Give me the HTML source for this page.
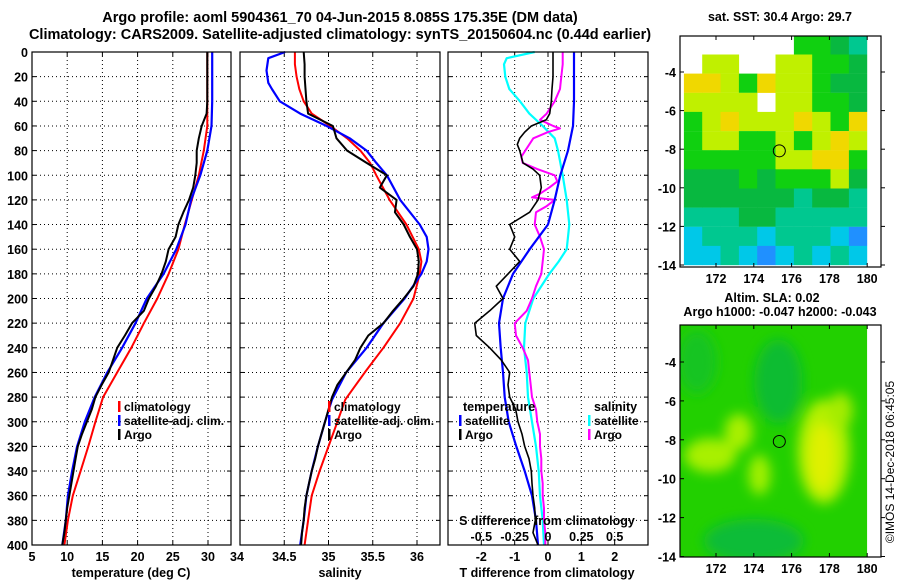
<!DOCTYPE html>
<html><head><meta charset="utf-8">
<style>
html,body{margin:0;padding:0;background:#fff;}
svg{display:block;font-family:"Liberation Sans",sans-serif;font-weight:bold;}
</style></head>
<body>
<svg id="fig" width="900" height="580" viewBox="0 0 900 580"></svg>
<script>
// ---------- data ----------
const depthsCoarse=[0,20,40,60,80,100,120,140,160,180,200,220,240,260,280,300,320,340,360,380,400];
const tempClim=[29.9,29.9,29.9,29.9,29.4,28.7,27.7,26.7,25.8,24.4,22.8,20.9,19.1,17.1,15.1,14.0,13.0,11.9,10.8,10.1,9.6];
const tempSat=[30.6,30.6,30.6,30.5,29.9,28.9,27.6,26.8,25.5,23.7,21.3,19.7,17.8,15.7,13.9,12.5,11.4,10.7,10.1,9.8,9.3];
const depthsFine=[0,10,20,30,40,50,60,70,80,90,100,110,120,130,140,150,160,170,180,190,200,210,220,230,240,250,260,270,280,290,300,310,320,330,340,350,360,370,380,390,400];
const tempArgo=[29.9,29.9,29.9,29.9,29.9,29.8,29.1,28.7,28.4,28.4,28.2,27.9,27.3,26.5,25.8,25.4,24.4,24.0,23.4,22.6,21.6,20.9,19.2,18.2,17.1,16.5,15.9,14.9,14.0,13.5,12.8,12.1,11.5,11.2,10.9,10.6,10.3,10.0,9.8,9.6,9.3];
const salDepths=[0,5,15,25,30,40,50,60,70,80,90,100,120,140,150,160,170,180,200,220,240,260,282,300,320,340,360,380,400];
const salSat=[34.51,34.32,34.30,34.32,34.36,34.45,34.68,34.98,35.24,35.43,35.54,35.66,35.81,36.03,36.11,36.13,36.11,36.05,35.86,35.62,35.43,35.20,35.04,34.96,34.88,34.81,34.75,34.72,34.68];
const salClimDepths=[0,10,20,30,40,50,60,70,80,90,100,120,140,160,170,180,200,220,240,260,282,300,320,340,360,380,400];
const salClim=[34.62,34.62,34.64,34.67,34.72,34.81,35.02,35.21,35.36,35.47,35.54,35.69,35.88,36.02,36.05,36.03,35.96,35.81,35.62,35.41,35.19,35.10,35.00,34.90,34.81,34.77,34.73];
const salArgo=[34.72,34.73,34.73,34.74,34.75,34.77,35.05,35.09,35.21,35.43,35.66,35.58,35.77,35.75,35.85,35.92,36.0,36.02,36.01,35.96,35.85,35.73,35.62,35.45,35.36,35.3,35.2,35.1,35.04,35.0,34.96,34.92,34.88,34.85,34.81,34.78,34.75,34.73,34.72,34.7,34.69];
const tDiffSat=[0.78,0.78,0.78,0.75,0.6,0.37,0.2,0.0,-0.55,-1.05,-1.35,-1.47,-1.42,-1.35,-1.3,-1.18,-0.95,-0.7,-0.48,-0.36,-0.3];
const tDiffArgoDepths=[0,10,20,30,40,50,55,60,65,70,75,80,90,95,100,110,120,130,140,150,160,170,180,190,200,210,220,230,240,250,260,270,280,290,300,310,320,330,340,350,360,370,380,390,400];
const tDiffArgo=[0.15,0.15,0.15,0.12,0.1,0.05,-0.05,-0.5,-0.7,-0.85,-0.92,-0.85,-0.75,-0.45,-0.25,-0.2,-0.3,-0.55,-1.15,-1.0,-1.15,-0.85,-1.2,-1.55,-1.35,-1.75,-2.2,-2.15,-1.75,-1.4,-1.15,-1.2,-1.15,-0.97,-0.9,-0.78,-0.7,-0.57,-0.5,-0.48,-0.45,-0.4,-0.38,-0.45,-0.3];
const sDiffSatDepths=[0,5,10,20,30,40,50,60,70,80,100,120,140,160,170,180,200,220,240,260,280,300,320,340,360,380,400];
const sDiffSat=[-0.1,-0.31,-0.33,-0.32,-0.29,-0.21,-0.14,-0.04,0.05,0.075,0.11,0.14,0.16,0.14,0.08,0.01,-0.11,-0.17,-0.18,-0.16,-0.15,-0.12,-0.09,-0.07,-0.06,-0.04,-0.03];
const sDiffArgoDepths=[0,10,20,30,40,50,55,60,62,65,70,80,85,90,95,100,105,110,115,118,120,125,130,140,150,160,170,180,190,200,210,220,230,240,250,260,270,280,290,300,310,320,330,340,350,360,370,380,390,400];
const sDiffArgo=[0.11,0.11,0.1,0.09,0.05,-0.01,-0.06,0.04,0.09,0.0,-0.11,-0.17,-0.2,-0.19,-0.08,0.05,0.07,0.01,-0.06,-0.12,0.05,-0.01,-0.09,-0.1,-0.06,-0.03,-0.04,-0.05,-0.09,-0.12,-0.16,-0.25,-0.24,-0.19,-0.15,-0.14,-0.13,-0.12,-0.09,-0.08,-0.06,-0.06,-0.05,-0.05,-0.04,-0.04,-0.03,-0.03,-0.02,-0.02];
const depthTicks=[0,20,40,60,80,100,120,140,160,180,200,220,240,260,280,300,320,340,360,380,400];
const tempTicks=[5,10,15,20,25,30];
const salTicks=[34,34.5,35,35.5,36];
const salTickLabels=["34","34.5","35","35.5","36"];
const tdTicks=[-2,-1,0,1,2];
const sdTicks=[-0.5,-0.25,0,0.25,0.5];
const sdTickLabels=["-0.5","-0.25","0","0.25","0.5"];
const lonTicks=[172,174,176,178,180];
const latTicks=[-4,-6,-8,-10,-12,-14];
const sstRows=["WWWWWWGGDT","WLLWWLLGGD","YYLGYLLGDD","LLLLWLLGGD","GLYLLLYLGY","GLLGGLGLYL","GGGGGLLYYG","DDDGDGGGLD","DDDDDDTDDT","TTTDDTTTTT","CTTTCTTTCB","CCTCBCTCTC"];
const argoLon=175.35, argoLat=-8.085;

// ---------- helpers ----------
const NS="http://www.w3.org/2000/svg";
const svg=document.getElementById('fig');
function el(tag,attrs,parent){const e=document.createElementNS(NS,tag);for(const k in attrs)e.setAttribute(k,attrs[k]);(parent||svg).appendChild(e);return e;}
function txt(x,y,s,size,anchor,parent){const t=el('text',{x:x,y:y,'font-size':size,'text-anchor':anchor||'middle',fill:'#000'},parent);t.textContent=s;return t;}
const Y0=52,Y1=545;
function yD(d){return Y0+(d/400)*(Y1-Y0);}

function panel(x0,x1,xmin,xmax,name){
  const g=el('g',{});
  
  
  return {g:g,x0:x0,x1:x1,sx:v=>x0+(v-xmin)/(xmax-xmin)*(x1-x0)};
}
function grid(p,xt){
  depthTicks.forEach(d=>{if(d>0&&d<400){el('line',{x1:p.x0,x2:p.x1,y1:yD(d),y2:yD(d),stroke:'#000','stroke-width':1,'stroke-dasharray':'1,3'},p.g);
    el('line',{x1:p.x0,x2:p.x0+4,y1:yD(d),y2:yD(d),stroke:'#000'},p.g);el('line',{x1:p.x1-4,x2:p.x1,y1:yD(d),y2:yD(d),stroke:'#000'},p.g);}});
  xt.forEach(v=>{const x=p.sx(v);if(x>p.x0+1&&x<p.x1-1){el('line',{x1:x,x2:x,y1:Y0,y2:Y1,stroke:'#000','stroke-width':1,'stroke-dasharray':'1,3'},p.g);
    el('line',{x1:x,x2:x,y1:Y1-4,y2:Y1,stroke:'#000'},p.g);el('line',{x1:x,x2:x,y1:Y0,y2:Y0+4,stroke:'#000'},p.g);}});
}
function frame(p){el('rect',{x:p.x0,y:Y0,width:p.x1-p.x0,height:Y1-Y0,fill:'none',stroke:'#000','stroke-width':1.2},p.g);}
function curve(p,vals,depths,color,w,name){
  const pts=vals.map((v,i)=>p.sx(v).toFixed(1)+','+yD(depths[i]).toFixed(1)).join(' ');
  const l=el('polyline',{points:pts,fill:'none',stroke:color,'stroke-width':w,'stroke-linejoin':'round'},p.g);
  
  
}
function legend(x,y,color,label,parent,name){
  const g=el('g',{},parent);
  
  
  el('rect',{x:x,y:y-10,width:2.5,height:11,fill:color},g);
  txt(x+6,y,label,12,'start',g);
}

const t1=txt(340,22,'Argo profile: aoml 5904361_70 04-Jun-2015 8.085S 175.35E (DM data)',14.5,'middle');

const t2=txt(340,39,'Climatology: CARS2009. Satellite-adjusted climatology: synTS_20150604.nc (0.44d earlier)',14.5,'middle');


depthTicks.forEach(d=>{const t=txt(28,yD(d)+5,String(d),12.5,'end');
  
  });

const p1=panel(32,231,5,5+199/7.04,'temperature-panel');
grid(p1,tempTicks);
curve(p1,tempClim,depthsCoarse,'#ff0000',2,'temp-climatology-line');
curve(p1,tempSat,depthsCoarse,'#0000ff',2.2,'temp-satellite-line');
curve(p1,tempArgo,depthsFine,'#000000',2,'temp-argo-line');
frame(p1);
tempTicks.forEach(v=>{const t=txt(p1.sx(v),561,String(v),12.5);});
txt(131,577,'temperature (deg C)',12.5);
legend(118,411,'#ff0000','climatology',p1.g,'legend-climatology');
legend(118,425,'#0000ff','satellite-adj. clim.',p1.g,'legend-satellite-adj');
legend(118,439,'#000000','Argo',p1.g,'legend-argo');

const p2=panel(240,440,34,34+200/88.5,'salinity-panel');
grid(p2,salTicks);
curve(p2,salClim,salClimDepths,'#ff0000',2,'sal-climatology-line');
curve(p2,salSat,salDepths,'#0000ff',2.2,'sal-satellite-line');
curve(p2,salArgo,depthsFine,'#000000',2,'sal-argo-line');
frame(p2);
salTicks.forEach((v,i)=>{const x=i===0?p2.sx(v)-3:p2.sx(v);const t=txt(x,561,salTickLabels[i],12.5);});
txt(340,577,'salinity',12.5);
legend(328,411,'#ff0000','climatology',p2.g,'legend-sal-climatology');
legend(328,425,'#0000ff','satellite-adj. clim.',p2.g,'legend-sal-satellite-adj');
legend(328,439,'#000000','Argo',p2.g,'legend-sal-argo');

const p3=panel(448,648,-3,3,'difference-panel');
const sX=v=>p3.sx(v*4);
grid(p3,tdTicks);
const p3s={x0:448,x1:648,sx:v=>p3.sx(v*4),g:p3.g};
curve(p3s,sDiffSat,sDiffSatDepths,'#00ffff',2.2,'sdiff-satellite-line');
curve(p3s,sDiffArgo,sDiffArgoDepths,'#ff00ff',2,'sdiff-argo-line');
curve(p3,tDiffSat,depthsCoarse,'#0000ff',2.2,'tdiff-satellite-line');
curve(p3,tDiffArgo,tDiffArgoDepths,'#000000',1.6,'tdiff-argo-line');
frame(p3);
tdTicks.forEach(v=>{const t=txt(p3.sx(v),561,String(v),12.5);});
sdTicks.forEach((v,i)=>{const t=txt(sX(v),541,sdTickLabels[i],12.5);});
txt(547,525,'S difference from climatology',12.5);
txt(547,577,'T difference from climatology',12.5);
txt(463,411,'temperature',12.5,'start',p3.g);
legend(459,425,'#0000ff','satellite',p3.g,'legend-t-satellite');
legend(459,439,'#000000','Argo',p3.g,'legend-t-argo');
txt(594,411,'salinity',12.5,'start',p3.g);
legend(588,425,'#00ffff','satellite',p3.g,'legend-s-satellite');
legend(588,439,'#ff00ff','Argo',p3.g,'legend-s-argo');

// ---------- maps ----------
const MX0=680,MX1=881;
const lonX=lon=>716+(lon-172)*18.9;
const COL={W:'#ffffff',Y:'#f0d800',L:'#c0f000',G:'#10d010',D:'#08b840',T:'#00c890',C:'#00c8e8',B:'#2090ff'};
function mapAxes(g,latY,top,bot){
  el('rect',{x:MX0,y:top,width:MX1-MX0,height:bot-top,fill:'none',stroke:'#000','stroke-width':1.2},g);
  lonTicks.forEach(l=>{const x=lonX(l);el('line',{x1:x,x2:x,y1:bot-4,y2:bot,stroke:'#000'},g);el('line',{x1:x,x2:x,y1:top,y2:top+4,stroke:'#000'},g);
    const t=txt(x,bot+16,String(l),12.5,'middle',g);});
  latTicks.forEach(la=>{const y=latY(la);el('line',{x1:MX0,x2:MX0+4,y1:y,y2:y,stroke:'#000'},g);el('line',{x1:MX1,x2:MX1+4,y1:y,y2:y,stroke:'#000'},g);
    const t=txt(MX0-4,y+5,String(la),12.5,'end',g);});
}
const g1=el('g',{});


const lat1=la=>72+(-4-la)*19.3;
const M1T=36,M1B=267;
sstRows.forEach((row,r)=>{for(let c=0;c<row.length;c++){const ch=row[c];if(ch==='W')continue;
  const x0=lonX(170.3+c*0.97),y0=lat1(-2.1-r*0.992);
  const cell=el('rect',{x:x0.toFixed(1),y:Math.max(M1T,y0).toFixed(1),width:18.6,height:(Math.min(M1B,y0+19.3)-Math.max(M1T,y0)).toFixed(1),fill:COL[ch]},g1);
  
  }});
el('rect',{x:lonX(180),y:M1T,width:MX1-lonX(180),height:M1B-M1T,fill:'#fff'},g1);
mapAxes(g1,lat1,M1T,M1B);
el('circle',{cx:lonX(argoLon),cy:lat1(argoLat),r:6,fill:'none',stroke:'#000','stroke-width':1},g1);
txt(780,21,'sat. SST: 30.4 Argo: 29.7',12.5,'middle',g1);

const g2=el('g',{});


const lat2=la=>362+(-4-la)*19.45;
const M2T=325,M2B=557;
const defs=el('defs',{},g2);
const f=el('filter',{id:'blur',x:'-50%',y:'-50%',width:'200%',height:'200%'},defs);
el('feGaussianBlur',{stdDeviation:6},f);
const cp=el('clipPath',{id:'m2clip'},defs);
el('rect',{x:MX0,y:M2T,width:lonX(180)-MX0,height:M2B-M2T},cp);
const sg=el('g',{'clip-path':'url(#m2clip)'},g2);
el('rect',{x:MX0,y:M2T,width:MX1-MX0,height:M2B-M2T,fill:'#22d000'},sg);
const bg=el('g',{filter:'url(#blur)'},sg);
el('ellipse',{cx:lonX(175.3),cy:lat2(-5),rx:24,ry:42,fill:'#0cbc30'},bg);
el('ellipse',{cx:lonX(174),cy:lat2(-13.2),rx:50,ry:22,fill:'#0cbc38'},bg);
el('ellipse',{cx:lonX(171),cy:lat2(-4),rx:20,ry:32,fill:'#18c420'},bg);
el('ellipse',{cx:lonX(171.7),cy:lat2(-8.8),rx:26,ry:17,fill:'#a8f000'},bg);
el('ellipse',{cx:lonX(173.2),cy:lat2(-7.6),rx:14,ry:18,fill:'#a8f000'},bg);
el('ellipse',{cx:lonX(174.3),cy:lat2(-9.8),rx:11,ry:20,fill:'#a0f000'},bg);
el('ellipse',{cx:lonX(177.7),cy:lat2(-8.6),rx:26,ry:52,fill:'#b4f000'},bg);
el('ellipse',{cx:lonX(177.6),cy:lat2(-8.9),rx:13,ry:34,fill:'#e0f000'},bg);
el('ellipse',{cx:lonX(178.6),cy:lat2(-6.5),rx:12,ry:18,fill:'#a4ec00'},bg);
el('rect',{x:lonX(180),y:M2T,width:MX1-lonX(180),height:M2B-M2T,fill:'#fff'},g2);
mapAxes(g2,lat2,M2T,M2B);
el('circle',{cx:lonX(argoLon),cy:lat2(argoLat),r:6,fill:'none',stroke:'#000','stroke-width':1},g2);
txt(772,302,'Altim. SLA: 0.02',12.5,'middle',g2);
txt(780,316,'Argo h1000: -0.047 h2000: -0.043',12.5,'middle',g2);
const cr=txt(0,0,'©IMOS 14-Dec-2018 06:45:05',12,'middle');
cr.setAttribute('transform','translate(894,462) rotate(-90)');
cr.setAttribute('font-weight','normal');


</script>
</body></html>
